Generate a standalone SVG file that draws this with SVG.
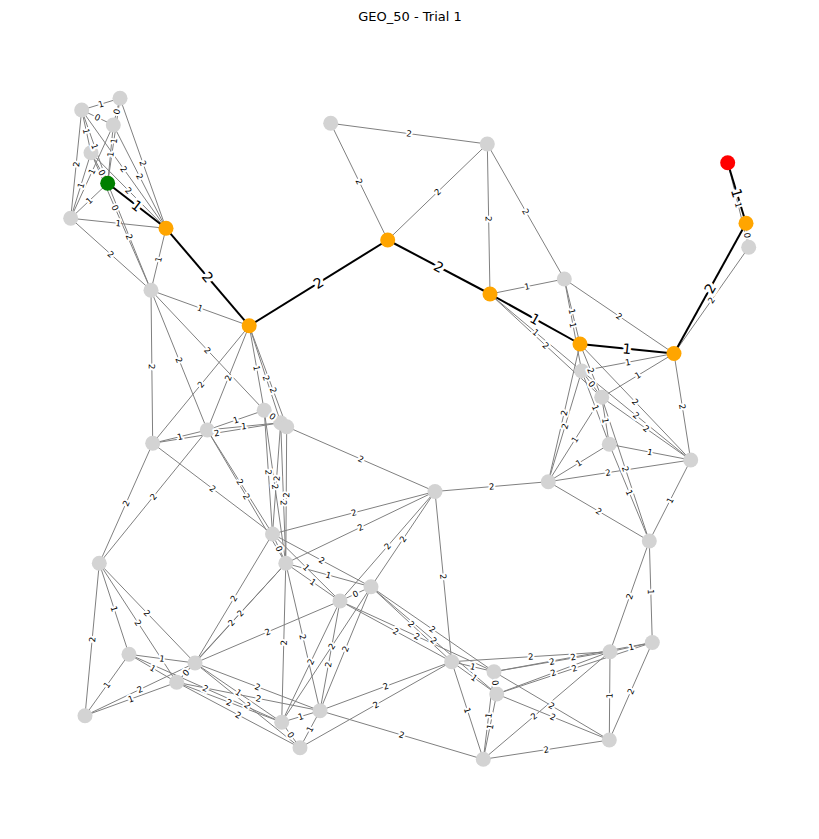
<svg xmlns="http://www.w3.org/2000/svg" width="819" height="839" viewBox="0 0 819 839">
<style>
.e{stroke:#808080;stroke-width:1;fill:none}
.p{stroke:#000;stroke-width:2;fill:none}
.n{fill:#d3d3d3}
.o{fill:#ffa500}
.l{font-family:"DejaVu Sans",sans-serif;font-size:8.5px;fill:#000;stroke:#fff;stroke-width:4;stroke-linejoin:round;paint-order:stroke;text-anchor:middle;dominant-baseline:central}
.lp{font-size:14px;stroke-width:6}
.t{font-family:"DejaVu Sans",sans-serif;font-size:13px;fill:#000;text-anchor:middle}
</style>
<rect width="819" height="839" fill="#fff"/>
<text class="t" x="410" y="21">GEO_50 - Trial 1</text>
<g id="connectors">
<path id="g1" class="e" d="M81.7 110 L120 98.3"/>
<path id="g2" class="e" d="M81.7 110 L113.3 125"/>
<path id="g3" class="e" d="M113.3 125 L120 98.3"/>
<path id="g4" class="e" d="M70.7 218.3 L81.7 110"/>
<path id="g5" class="e" d="M81.7 110 L91 152.7"/>
<path id="g6" class="e" d="M81.7 110 L107.7 183.3"/>
<path id="g7" class="e" d="M81.7 110 L166 228.3"/>
<path id="g8" class="e" d="M120 98.3 L166 228.3"/>
<path id="g9" class="e" d="M113.3 125 L166 228.3"/>
<path id="g10" class="e" d="M91 152.7 L166 228.3"/>
<path id="g11" class="e" d="M107.7 183.3 L113.3 125"/>
<path id="g12" class="e" d="M107.7 183.3 L120 98.3"/>
<path id="g13" class="e" d="M91 152.7 L107.7 183.3"/>
<path id="g14" class="e" d="M70.7 218.3 L91 152.7"/>
<path id="g15" class="e" d="M70.7 218.3 L107.7 183.3"/>
<path id="g16" class="e" d="M70.7 218.3 L113.3 125"/>
<path id="g17" class="e" d="M70.7 218.3 L166 228.3"/>
<path id="g18" class="e" d="M70.7 218.3 L151 290.3"/>
<path id="g19" class="e" d="M107.7 183.3 L151 290.3"/>
<path id="g20" class="e" d="M91 152.7 L151 290.3"/>
<path id="g21" class="e" d="M151 290.3 L166 228.3"/>
<path id="g22" class="e" d="M151 290.3 L249.2 325.8"/>
<path id="g23" class="e" d="M151 290.3 L152.7 443.3"/>
<path id="g24" class="e" d="M151 290.3 L207.3 430"/>
<path id="g25" class="e" d="M151 290.3 L264.2 410.3"/>
<path id="g26" class="e" d="M152.7 443.3 L249.2 325.8"/>
<path id="g27" class="e" d="M207.3 430 L249.2 325.8"/>
<path id="g28" class="e" d="M249.2 325.8 L264.2 410.3"/>
<path id="g29" class="e" d="M249.2 325.8 L280.7 422.7"/>
<path id="g30" class="e" d="M249.2 325.8 L286.7 426.7"/>
<path id="g31" class="e" d="M330.7 123.3 L387.7 240"/>
<path id="g32" class="e" d="M330.7 123.3 L487.3 144"/>
<path id="g33" class="e" d="M387.7 240 L487.3 144"/>
<path id="g34" class="e" d="M487.3 144 L490 294"/>
<path id="g35" class="e" d="M487.3 144 L564.3 279"/>
<path id="g36" class="e" d="M490 294 L564.3 279"/>
<path id="g37" class="e" d="M564.3 279 L674 353.5"/>
<path id="g38" class="e" d="M564.3 279 L580 344"/>
<path id="g39" class="e" d="M564.3 279 L581.7 371"/>
<path id="g40" class="e" d="M490 294 L581.7 371"/>
<path id="g41" class="e" d="M490 294 L601.7 397.3"/>
<path id="g42" class="e" d="M580 344 L601.7 397.3"/>
<path id="g43" class="e" d="M580 344 L690.7 460"/>
<path id="g44" class="e" d="M548.3 481.7 L580 344"/>
<path id="g45" class="e" d="M581.7 371 L674 353.5"/>
<path id="g46" class="e" d="M601.7 397.3 L674 353.5"/>
<path id="g47" class="e" d="M674 353.5 L690.7 460"/>
<path id="g48" class="e" d="M674 353.5 L748.7 247.3"/>
<path id="g49" class="e" d="M746 223.3 L748.7 247.3"/>
<path id="g50" class="e" d="M727.7 162.7 L748.7 247.3"/>
<path id="g51" class="e" d="M581.7 371 L601.7 397.3"/>
<path id="g52" class="e" d="M581.7 371 L609.3 444.3"/>
<path id="g53" class="e" d="M581.7 371 L690.7 460"/>
<path id="g54" class="e" d="M548.3 481.7 L581.7 371"/>
<path id="g55" class="e" d="M601.7 397.3 L609.3 444.3"/>
<path id="g56" class="e" d="M601.7 397.3 L690.7 460"/>
<path id="g57" class="e" d="M548.3 481.7 L601.7 397.3"/>
<path id="g58" class="e" d="M601.7 397.3 L649.3 541"/>
<path id="g59" class="e" d="M609.3 444.3 L690.7 460"/>
<path id="g60" class="e" d="M548.3 481.7 L609.3 444.3"/>
<path id="g61" class="e" d="M609.3 444.3 L649.3 541"/>
<path id="g62" class="e" d="M548.3 481.7 L690.7 460"/>
<path id="g63" class="e" d="M548.3 481.7 L649.3 541"/>
<path id="g64" class="e" d="M649.3 541 L690.7 460"/>
<path id="g65" class="e" d="M435 491.5 L548.3 481.7"/>
<path id="g66" class="e" d="M610 651.7 L649.3 541"/>
<path id="g67" class="e" d="M649.3 541 L652.3 642.5"/>
<path id="g68" class="e" d="M152.7 443.3 L207.3 430"/>
<path id="g69" class="e" d="M152.7 443.3 L280.7 422.7"/>
<path id="g70" class="e" d="M207.3 430 L264.2 410.3"/>
<path id="g71" class="e" d="M207.3 430 L280.7 422.7"/>
<path id="g72" class="e" d="M264.2 410.3 L280.7 422.7"/>
<path id="g73" class="e" d="M99.3 563.3 L152.7 443.3"/>
<path id="g74" class="e" d="M99.3 563.3 L207.3 430"/>
<path id="g75" class="e" d="M152.7 443.3 L272.5 534"/>
<path id="g76" class="e" d="M207.3 430 L272.5 534"/>
<path id="g77" class="e" d="M207.3 430 L285.8 563.3"/>
<path id="g78" class="e" d="M264.2 410.3 L272.5 534"/>
<path id="g79" class="e" d="M264.2 410.3 L285.8 563.3"/>
<path id="g80" class="e" d="M272.5 534 L280.7 422.7"/>
<path id="g81" class="e" d="M280.7 422.7 L285.8 563.3"/>
<path id="g82" class="e" d="M285.8 563.3 L286.7 426.7"/>
<path id="g83" class="e" d="M286.7 426.7 L435 491.5"/>
<path id="g84" class="e" d="M272.5 534 L435 491.5"/>
<path id="g85" class="e" d="M285.8 563.3 L435 491.5"/>
<path id="g86" class="e" d="M272.5 534 L285.8 563.3"/>
<path id="g87" class="e" d="M272.5 534 L371 586.8"/>
<path id="g88" class="e" d="M272.5 534 L340 601"/>
<path id="g89" class="e" d="M285.8 563.3 L340 601"/>
<path id="g90" class="e" d="M285.8 563.3 L371 586.8"/>
<path id="g91" class="e" d="M340 601 L371 586.8"/>
<path id="g92" class="e" d="M340 601 L435 491.5"/>
<path id="g93" class="e" d="M371 586.8 L435 491.5"/>
<path id="g94" class="e" d="M435 491.5 L451.7 661.7"/>
<path id="g95" class="e" d="M281.7 722.3 L285.8 563.3"/>
<path id="g96" class="e" d="M285.8 563.3 L320 710.7"/>
<path id="g97" class="e" d="M195 663 L340 601"/>
<path id="g98" class="e" d="M195 663 L272.5 534"/>
<path id="g99" class="e" d="M195 663 L285.8 563.3"/>
<path id="g100" class="e" d="M176.7 682.3 L285.8 563.3"/>
<path id="g101" class="e" d="M340 601 L451.7 661.7"/>
<path id="g102" class="e" d="M340 601 L494 671.7"/>
<path id="g103" class="e" d="M371 586.8 L451.7 661.7"/>
<path id="g104" class="e" d="M371 586.8 L494 671.7"/>
<path id="g105" class="e" d="M371 586.8 L496.7 694"/>
<path id="g106" class="e" d="M281.7 722.3 L340 601"/>
<path id="g107" class="e" d="M281.7 722.3 L371 586.8"/>
<path id="g108" class="e" d="M320 710.7 L340 601"/>
<path id="g109" class="e" d="M320 710.7 L371 586.8"/>
<path id="g110" class="e" d="M85 715.7 L99.3 563.3"/>
<path id="g111" class="e" d="M99.3 563.3 L129 654.3"/>
<path id="g112" class="e" d="M99.3 563.3 L176.7 682.3"/>
<path id="g113" class="e" d="M99.3 563.3 L195 663"/>
<path id="g114" class="e" d="M85 715.7 L129 654.3"/>
<path id="g115" class="e" d="M129 654.3 L195 663"/>
<path id="g116" class="e" d="M129 654.3 L176.7 682.3"/>
<path id="g117" class="e" d="M129 654.3 L281.7 722.3"/>
<path id="g118" class="e" d="M85 715.7 L176.7 682.3"/>
<path id="g119" class="e" d="M85 715.7 L195 663"/>
<path id="g120" class="e" d="M176.7 682.3 L195 663"/>
<path id="g121" class="e" d="M195 663 L281.7 722.3"/>
<path id="g122" class="e" d="M195 663 L320 710.7"/>
<path id="g123" class="e" d="M195 663 L300 747.7"/>
<path id="g124" class="e" d="M176.7 682.3 L281.7 722.3"/>
<path id="g125" class="e" d="M176.7 682.3 L300 747.7"/>
<path id="g126" class="e" d="M176.7 682.3 L320 710.7"/>
<path id="g127" class="e" d="M281.7 722.3 L320 710.7"/>
<path id="g128" class="e" d="M281.7 722.3 L300 747.7"/>
<path id="g129" class="e" d="M300 747.7 L320 710.7"/>
<path id="g130" class="e" d="M320 710.7 L451.7 661.7"/>
<path id="g131" class="e" d="M300 747.7 L451.7 661.7"/>
<path id="g132" class="e" d="M320 710.7 L483.3 759.3"/>
<path id="g133" class="e" d="M451.7 661.7 L494 671.7"/>
<path id="g134" class="e" d="M451.7 661.7 L496.7 694"/>
<path id="g135" class="e" d="M451.7 661.7 L483.3 759.3"/>
<path id="g136" class="e" d="M451.7 661.7 L610 651.7"/>
<path id="g137" class="e" d="M494 671.7 L496.7 694"/>
<path id="g138" class="e" d="M483.3 759.3 L494 671.7"/>
<path id="g139" class="e" d="M483.3 759.3 L496.7 694"/>
<path id="g140" class="e" d="M494 671.7 L610 651.7"/>
<path id="g141" class="e" d="M494 671.7 L652.3 642.5"/>
<path id="g142" class="e" d="M496.7 694 L610 651.7"/>
<path id="g143" class="e" d="M496.7 694 L652.3 642.5"/>
<path id="g144" class="e" d="M494 671.7 L609.3 740"/>
<path id="g145" class="e" d="M496.7 694 L609.3 740"/>
<path id="g146" class="e" d="M483.3 759.3 L609.3 740"/>
<path id="g147" class="e" d="M483.3 759.3 L610 651.7"/>
<path id="g148" class="e" d="M610 651.7 L652.3 642.5"/>
<path id="g149" class="e" d="M609.3 740 L610 651.7"/>
<path id="g150" class="e" d="M609.3 740 L652.3 642.5"/>
<path id="p1" class="p" d="M107.7 183.3 L166 228.3"/>
<path id="p2" class="p" d="M166 228.3 L249.2 325.8"/>
<path id="p3" class="p" d="M249.2 325.8 L387.7 240"/>
<path id="p4" class="p" d="M387.7 240 L490 294"/>
<path id="p5" class="p" d="M490 294 L580 344"/>
<path id="p6" class="p" d="M580 344 L674 353.5"/>
<path id="p7" class="p" d="M674 353.5 L746 223.3"/>
<path id="p8" class="p" d="M727.7 162.7 L746 223.3"/>
</g>
<g id="nodes">
<g id="nA1"><circle class="n" cx="81.7" cy="110" r="7.5"/></g>
<g id="nA2"><circle class="n" cx="120" cy="98.3" r="7.5"/></g>
<g id="nA3"><circle class="n" cx="113.3" cy="125" r="7.5"/></g>
<g id="nA4"><circle class="n" cx="91" cy="152.7" r="7.5"/></g>
<g id="nA5"><circle class="n" cx="70.7" cy="218.3" r="7.5"/></g>
<g id="nStart"><circle cx="107.7" cy="183.3" r="7.5" fill="#008000"/></g>
<g id="nO1"><circle class="o" cx="166" cy="228.3" r="7.5"/></g>
<g id="nB"><circle class="n" cx="151" cy="290.3" r="7.5"/></g>
<g id="nO2"><circle class="o" cx="249.2" cy="325.8" r="7.5"/></g>
<g id="nO3"><circle class="o" cx="387.7" cy="240" r="7.5"/></g>
<g id="nC"><circle class="n" cx="330.7" cy="123.3" r="7.5"/></g>
<g id="nD"><circle class="n" cx="487.3" cy="144" r="7.5"/></g>
<g id="nO4"><circle class="o" cx="490" cy="294" r="7.5"/></g>
<g id="nE"><circle class="n" cx="564.3" cy="279" r="7.5"/></g>
<g id="nO5"><circle class="o" cx="580" cy="344" r="7.5"/></g>
<g id="nO6"><circle class="o" cx="674" cy="353.5" r="7.5"/></g>
<g id="nO7"><circle class="o" cx="746" cy="223.3" r="7.5"/></g>
<g id="nGoal"><circle cx="727.7" cy="162.7" r="7.5" fill="#ff0000"/></g>
<g id="nF"><circle class="n" cx="748.7" cy="247.3" r="7.5"/></g>
<g id="nH1"><circle class="n" cx="581.7" cy="371" r="7.5"/></g>
<g id="nH2"><circle class="n" cx="601.7" cy="397.3" r="7.5"/></g>
<g id="nH3"><circle class="n" cx="609.3" cy="444.3" r="7.5"/></g>
<g id="nH4"><circle class="n" cx="690.7" cy="460" r="7.5"/></g>
<g id="nH5"><circle class="n" cx="548.3" cy="481.7" r="7.5"/></g>
<g id="nH6"><circle class="n" cx="649.3" cy="541" r="7.5"/></g>
<g id="nM1"><circle class="n" cx="264.2" cy="410.3" r="7.5"/></g>
<g id="nM2a"><circle class="n" cx="280.7" cy="422.7" r="7.5"/></g>
<g id="nM2b"><circle class="n" cx="286.7" cy="426.7" r="7.5"/></g>
<g id="nM3"><circle class="n" cx="207.3" cy="430" r="7.5"/></g>
<g id="nM4"><circle class="n" cx="152.7" cy="443.3" r="7.5"/></g>
<g id="nI"><circle class="n" cx="435" cy="491.5" r="7.5"/></g>
<g id="nJ"><circle class="n" cx="272.5" cy="534" r="7.5"/></g>
<g id="nK"><circle class="n" cx="285.8" cy="563.3" r="7.5"/></g>
<g id="nL"><circle class="n" cx="340" cy="601" r="7.5"/></g>
<g id="nN"><circle class="n" cx="371" cy="586.8" r="7.5"/></g>
<g id="nP"><circle class="n" cx="99.3" cy="563.3" r="7.5"/></g>
<g id="nQ"><circle class="n" cx="129" cy="654.3" r="7.5"/></g>
<g id="nS"><circle class="n" cx="85" cy="715.7" r="7.5"/></g>
<g id="nT"><circle class="n" cx="195" cy="663" r="7.5"/></g>
<g id="nU"><circle class="n" cx="176.7" cy="682.3" r="7.5"/></g>
<g id="nV"><circle class="n" cx="281.7" cy="722.3" r="7.5"/></g>
<g id="nW"><circle class="n" cx="320" cy="710.7" r="7.5"/></g>
<g id="nX"><circle class="n" cx="300" cy="747.7" r="7.5"/></g>
<g id="nY"><circle class="n" cx="451.7" cy="661.7" r="7.5"/></g>
<g id="nZ"><circle class="n" cx="494" cy="671.7" r="7.5"/></g>
<g id="nAA"><circle class="n" cx="496.7" cy="694" r="7.5"/></g>
<g id="nAB"><circle class="n" cx="483.3" cy="759.3" r="7.5"/></g>
<g id="nAC"><circle class="n" cx="610" cy="651.7" r="7.5"/></g>
<g id="nAD"><circle class="n" cx="652.3" cy="642.5" r="7.5"/></g>
<g id="nAE"><circle class="n" cx="609.3" cy="740" r="7.5"/></g>
</g>
<g id="edge-labels">
<text class="l"><textPath href="#g1" startOffset="50%">1</textPath></text>
<text class="l"><textPath href="#g2" startOffset="50%">0</textPath></text>
<text class="l"><textPath href="#g3" startOffset="50%">0</textPath></text>
<text class="l"><textPath href="#g4" startOffset="50%">2</textPath></text>
<text class="l"><textPath href="#g5" startOffset="50%">1</textPath></text>
<text class="l"><textPath href="#g6" startOffset="50%">1</textPath></text>
<text class="l"><textPath href="#g7" startOffset="50%">2</textPath></text>
<text class="l"><textPath href="#g8" startOffset="50%">2</textPath></text>
<text class="l"><textPath href="#g9" startOffset="50%">2</textPath></text>
<text class="l"><textPath href="#g10" startOffset="50%">2</textPath></text>
<text class="l"><textPath href="#g11" startOffset="50%">1</textPath></text>
<text class="l"><textPath href="#g12" startOffset="50%">1</textPath></text>
<text class="l"><textPath href="#g13" startOffset="65%">0</textPath></text>
<text class="l"><textPath href="#g14" startOffset="50%">1</textPath></text>
<text class="l"><textPath href="#g15" startOffset="50%">1</textPath></text>
<text class="l"><textPath href="#g16" startOffset="50%">1</textPath></text>
<text class="l"><textPath href="#g17" startOffset="50%">1</textPath></text>
<text class="l"><textPath href="#g18" startOffset="50%">2</textPath></text>
<text class="l"><textPath href="#g19" startOffset="50%">2</textPath></text>
<text class="l"><textPath href="#g20" startOffset="40%">0</textPath></text>
<text class="l"><textPath href="#g21" startOffset="50%">1</textPath></text>
<text class="l"><textPath href="#g22" startOffset="50%">1</textPath></text>
<text class="l"><textPath href="#g23" startOffset="50%">2</textPath></text>
<text class="l"><textPath href="#g24" startOffset="50%">2</textPath></text>
<text class="l"><textPath href="#g25" startOffset="50%">2</textPath></text>
<text class="l"><textPath href="#g26" startOffset="50%">2</textPath></text>
<text class="l"><textPath href="#g27" startOffset="50%">2</textPath></text>
<text class="l"><textPath href="#g28" startOffset="50%">1</textPath></text>
<text class="l"><textPath href="#g29" startOffset="54%">2</textPath></text>
<text class="l"><textPath href="#g30" startOffset="64%">2</textPath></text>
<text class="l"><textPath href="#g31" startOffset="50%">2</textPath></text>
<text class="l"><textPath href="#g32" startOffset="50%">2</textPath></text>
<text class="l"><textPath href="#g33" startOffset="50%">2</textPath></text>
<text class="l"><textPath href="#g34" startOffset="50%">2</textPath></text>
<text class="l"><textPath href="#g35" startOffset="50%">2</textPath></text>
<text class="l"><textPath href="#g36" startOffset="50%">1</textPath></text>
<text class="l"><textPath href="#g37" startOffset="50%">2</textPath></text>
<text class="l"><textPath href="#g38" startOffset="50%">1</textPath></text>
<text class="l"><textPath href="#g39" startOffset="50%">1</textPath></text>
<text class="l"><textPath href="#g40" startOffset="50%">1</textPath></text>
<text class="l"><textPath href="#g41" startOffset="50%">2</textPath></text>
<text class="l"><textPath href="#g42" startOffset="50%">2</textPath></text>
<text class="l"><textPath href="#g43" startOffset="50%">2</textPath></text>
<text class="l"><textPath href="#g44" startOffset="50%">2</textPath></text>
<text class="l"><textPath href="#g45" startOffset="50%">1</textPath></text>
<text class="l"><textPath href="#g46" startOffset="50%">1</textPath></text>
<text class="l"><textPath href="#g47" startOffset="50%">2</textPath></text>
<text class="l"><textPath href="#g48" startOffset="50%">2</textPath></text>
<text class="l"><textPath href="#g49" startOffset="50%">0</textPath></text>
<text class="l"><textPath href="#g50" startOffset="50%">1</textPath></text>
<text class="l"><textPath href="#g51" startOffset="50%">0</textPath></text>
<text class="l"><textPath href="#g52" startOffset="50%">1</textPath></text>
<text class="l"><textPath href="#g53" startOffset="50%">2</textPath></text>
<text class="l"><textPath href="#g54" startOffset="50%">2</textPath></text>
<text class="l"><textPath href="#g55" startOffset="50%">1</textPath></text>
<text class="l"><textPath href="#g56" startOffset="50%">2</textPath></text>
<text class="l"><textPath href="#g57" startOffset="50%">1</textPath></text>
<text class="l"><textPath href="#g58" startOffset="50%">2</textPath></text>
<text class="l"><textPath href="#g59" startOffset="50%">1</textPath></text>
<text class="l"><textPath href="#g60" startOffset="50%">1</textPath></text>
<text class="l"><textPath href="#g61" startOffset="50%">1</textPath></text>
<text class="l"><textPath href="#g62" startOffset="42%">2</textPath></text>
<text class="l"><textPath href="#g63" startOffset="50%">2</textPath></text>
<text class="l"><textPath href="#g64" startOffset="50%">1</textPath></text>
<text class="l"><textPath href="#g65" startOffset="50%">2</textPath></text>
<text class="l"><textPath href="#g66" startOffset="50%">2</textPath></text>
<text class="l"><textPath href="#g67" startOffset="50%">1</textPath></text>
<text class="l"><textPath href="#g68" startOffset="50%">1</textPath></text>
<text class="l"><textPath href="#g69" startOffset="50%">2</textPath></text>
<text class="l"><textPath href="#g70" startOffset="50%">1</textPath></text>
<text class="l"><textPath href="#g71" startOffset="50%">1</textPath></text>
<text class="l"><textPath href="#g72" startOffset="50%">0</textPath></text>
<text class="l"><textPath href="#g73" startOffset="50%">2</textPath></text>
<text class="l"><textPath href="#g74" startOffset="50%">2</textPath></text>
<text class="l"><textPath href="#g75" startOffset="50%">2</textPath></text>
<text class="l"><textPath href="#g76" startOffset="50%">2</textPath></text>
<text class="l"><textPath href="#g77" startOffset="50%">2</textPath></text>
<text class="l"><textPath href="#g78" startOffset="50%">2</textPath></text>
<text class="l"><textPath href="#g79" startOffset="50%">2</textPath></text>
<text class="l"><textPath href="#g80" startOffset="50%">2</textPath></text>
<text class="l"><textPath href="#g81" startOffset="57%">2</textPath></text>
<text class="l"><textPath href="#g82" startOffset="50%">2</textPath></text>
<text class="l"><textPath href="#g83" startOffset="50%">2</textPath></text>
<text class="l"><textPath href="#g84" startOffset="50%">2</textPath></text>
<text class="l"><textPath href="#g85" startOffset="50%">2</textPath></text>
<text class="l"><textPath href="#g86" startOffset="50%">0</textPath></text>
<text class="l"><textPath href="#g87" startOffset="50%">2</textPath></text>
<text class="l"><textPath href="#g88" startOffset="50%">1</textPath></text>
<text class="l"><textPath href="#g89" startOffset="50%">1</textPath></text>
<text class="l"><textPath href="#g90" startOffset="50%">1</textPath></text>
<text class="l"><textPath href="#g91" startOffset="50%">0</textPath></text>
<text class="l"><textPath href="#g92" startOffset="50%">2</textPath></text>
<text class="l"><textPath href="#g93" startOffset="50%">2</textPath></text>
<text class="l"><textPath href="#g94" startOffset="50%">2</textPath></text>
<text class="l"><textPath href="#g95" startOffset="50%">2</textPath></text>
<text class="l"><textPath href="#g96" startOffset="50%">2</textPath></text>
<text class="l"><textPath href="#g97" startOffset="50%">2</textPath></text>
<text class="l"><textPath href="#g98" startOffset="50%">2</textPath></text>
<text class="l"><textPath href="#g99" startOffset="50%">2</textPath></text>
<text class="l"><textPath href="#g100" startOffset="50%">2</textPath></text>
<text class="l"><textPath href="#g101" startOffset="50%">2</textPath></text>
<text class="l"><textPath href="#g102" startOffset="50%">2</textPath></text>
<text class="l"><textPath href="#g103" startOffset="50%">2</textPath></text>
<text class="l"><textPath href="#g104" startOffset="50%">2</textPath></text>
<text class="l"><textPath href="#g105" startOffset="50%">2</textPath></text>
<text class="l"><textPath href="#g106" startOffset="50%">2</textPath></text>
<text class="l"><textPath href="#g107" startOffset="56%">2</textPath></text>
<text class="l"><textPath href="#g108" startOffset="42%">2</textPath></text>
<text class="l"><textPath href="#g109" startOffset="50%">2</textPath></text>
<text class="l"><textPath href="#g110" startOffset="50%">2</textPath></text>
<text class="l"><textPath href="#g111" startOffset="50%">1</textPath></text>
<text class="l"><textPath href="#g112" startOffset="50%">2</textPath></text>
<text class="l"><textPath href="#g113" startOffset="50%">2</textPath></text>
<text class="l"><textPath href="#g114" startOffset="50%">1</textPath></text>
<text class="l"><textPath href="#g115" startOffset="50%">1</textPath></text>
<text class="l"><textPath href="#g116" startOffset="50%">1</textPath></text>
<text class="l"><textPath href="#g117" startOffset="50%">2</textPath></text>
<text class="l"><textPath href="#g118" startOffset="50%">1</textPath></text>
<text class="l"><textPath href="#g119" startOffset="50%">2</textPath></text>
<text class="l"><textPath href="#g120" startOffset="50%">0</textPath></text>
<text class="l"><textPath href="#g121" startOffset="50%">1</textPath></text>
<text class="l"><textPath href="#g122" startOffset="50%">2</textPath></text>
<text class="l"><textPath href="#g123" startOffset="50%">2</textPath></text>
<text class="l"><textPath href="#g124" startOffset="50%">2</textPath></text>
<text class="l"><textPath href="#g125" startOffset="50%">2</textPath></text>
<text class="l"><textPath href="#g126" startOffset="57%">2</textPath></text>
<text class="l"><textPath href="#g127" startOffset="50%">1</textPath></text>
<text class="l"><textPath href="#g128" startOffset="50%">0</textPath></text>
<text class="l"><textPath href="#g129" startOffset="50%">1</textPath></text>
<text class="l"><textPath href="#g130" startOffset="50%">2</textPath></text>
<text class="l"><textPath href="#g131" startOffset="50%">2</textPath></text>
<text class="l"><textPath href="#g132" startOffset="50%">2</textPath></text>
<text class="l"><textPath href="#g133" startOffset="50%">1</textPath></text>
<text class="l"><textPath href="#g134" startOffset="50%">1</textPath></text>
<text class="l"><textPath href="#g135" startOffset="50%">1</textPath></text>
<text class="l"><textPath href="#g136" startOffset="50%">2</textPath></text>
<text class="l"><textPath href="#g137" startOffset="50%">0</textPath></text>
<text class="l"><textPath href="#g138" startOffset="50%">1</textPath></text>
<text class="l"><textPath href="#g139" startOffset="50%">1</textPath></text>
<text class="l"><textPath href="#g140" startOffset="50%">2</textPath></text>
<text class="l"><textPath href="#g141" startOffset="50%">2</textPath></text>
<text class="l"><textPath href="#g142" startOffset="50%">2</textPath></text>
<text class="l"><textPath href="#g143" startOffset="50%">2</textPath></text>
<text class="l"><textPath href="#g144" startOffset="50%">2</textPath></text>
<text class="l"><textPath href="#g145" startOffset="50%">2</textPath></text>
<text class="l"><textPath href="#g146" startOffset="50%">2</textPath></text>
<text class="l"><textPath href="#g147" startOffset="40%">2</textPath></text>
<text class="l"><textPath href="#g148" startOffset="50%">1</textPath></text>
<text class="l"><textPath href="#g149" startOffset="50%">1</textPath></text>
<text class="l"><textPath href="#g150" startOffset="50%">2</textPath></text>
<text class="l lp"><textPath href="#p1" startOffset="50%">1</textPath></text>
<text class="l lp"><textPath href="#p2" startOffset="50%">2</textPath></text>
<text class="l lp"><textPath href="#p3" startOffset="50%">2</textPath></text>
<text class="l lp"><textPath href="#p4" startOffset="50%">2</textPath></text>
<text class="l lp"><textPath href="#p5" startOffset="50%">1</textPath></text>
<text class="l lp"><textPath href="#p6" startOffset="50%">1</textPath></text>
<text class="l lp"><textPath href="#p7" startOffset="50%">2</textPath></text>
<text class="l lp"><textPath href="#p8" startOffset="50%">1</textPath></text>
</g>
</svg>
